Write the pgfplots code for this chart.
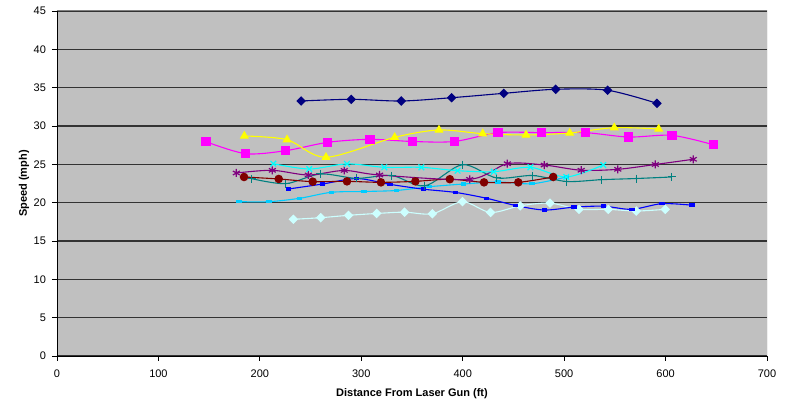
\documentclass[border=0pt]{standalone}
\usepackage{fontspec}
\setmainfont{Liberation Sans}
\usepackage{pgfplots}
\pgfplotsset{compat=1.18}
\definecolor{bg}{HTML}{C0C0C0}
\definecolor{cnavy}{HTML}{000080}
\definecolor{cmag}{HTML}{FF00FF}
\definecolor{cyel}{HTML}{FFFF00}
\definecolor{ccyan}{HTML}{00FFFF}
\definecolor{cpurp}{HTML}{800080}
\definecolor{cmaroon}{HTML}{800000}
\definecolor{cteal}{HTML}{008080}
\definecolor{cblue}{HTML}{0000FF}
\definecolor{csky}{HTML}{00CCFF}
\definecolor{clcyan}{HTML}{CCFFFF}
\begin{document}
\begin{tikzpicture}
\useasboundingbox (-57pt,-47pt) rectangle (734pt,356pt);
\begin{axis}[
  at={(0,0)}, anchor=south west,
  scale only axis, width=710pt, height=345pt,
  xmin=0, xmax=700, ymin=0, ymax=45,
  xtick={0,100,...,700}, ytick={0,5,...,45},
  axis x line*=bottom, axis y line*=left,
  axis line style={black, line width=0.8pt},
  axis background/.style={fill=bg},
  ymajorgrids, major grid style={black!80, line width=1.1pt},
  tick align=outside, major tick length=5pt,
  tick style={black, line width=0.8pt},
  ticklabel style={font=\fontsize{11}{13}\selectfont},
  xticklabel style={yshift=-5pt},
  yticklabel style={xshift=-2.5pt},
  /pgf/number format/assume math mode=true,
  xlabel={Distance From Laser Gun (ft)},
  ylabel={Speed (mph)},
  label style={font=\fontsize{11}{13}\selectfont\bfseries},
  xlabel style={at={(axis description cs:0.5,-0.11)}, anchor=center},
  ylabel style={at={(axis description cs:-0.0465,0.5)}, anchor=center, rotate=0},
  every axis plot/.append style={smooth, line width=1.1pt},
]
% navy diamonds
\addplot[cnavy, mark=diamond*, mark size=4pt, mark options={xscale=1.33}] coordinates {
(240.6,33.26) (290.1,33.48) (339.4,33.26) (389.1,33.69) (440.4,34.26) (491.7,34.79) (542.9,34.66) (591.5,32.96)};
% magenta squares
\addplot[cmag, mark=square*, mark size=4pt] coordinates {
(146.9,27.95) (186.0,26.39) (225.5,26.78) (266.9,27.87) (308.6,28.26) (350.3,27.98) (391.7,27.98) (434.8,29.13) (477.9,29.13) (520.9,29.13) (563.7,28.56) (606.3,28.78) (647.0,27.56)};
% yellow triangles
\addplot[cyel, mark=triangle*, mark size=4.2pt] coordinates {
(184.7,28.70) (226.8,28.21) (265.2,25.92) (332.9,28.52) (376.6,29.48) (419.7,29.0) (462.4,28.83) (505.5,29.09) (549.4,29.78) (593.2,29.61)};
% sky blue dashes
\addplot[csky, mark=square*, mark size=2.2pt, mark options={yscale=0.55}] coordinates {
(179.2,20.13) (209.0,20.13) (239.3,20.57) (270.4,21.35) (302.9,21.46) (334.7,21.59) (367.1,22.08) (400.6,22.43) (434.8,22.70) (468.5,22.47) (502.3,23.35)};
% light cyan diamonds
\addplot[clcyan, mark=diamond*, mark size=4pt, mark options={xscale=1.33}] coordinates {
(233.0,17.83) (260.0,18.04) (287.4,18.35) (315.2,18.59) (342.7,18.76) (370.1,18.55) (399.8,20.13) (427.4,18.72) (456.7,19.59) (486.1,19.94) (514.7,19.13) (543.5,19.13) (571.1,18.91) (599.7,19.13)};
% blue dashes
\addplot[cblue, mark=square*, mark size=2.2pt, mark options={yscale=0.55}] coordinates {
(228.0,21.78) (261.8,22.43) (295.5,23.15) (328.3,22.39) (361.1,21.76) (393.1,21.33) (423.6,20.57) (452.2,19.63) (480.6,19.04) (509.5,19.41) (538.6,19.54) (566.7,19.13) (596.3,19.87) (626.0,19.67)};
% teal plus
\addplot[cteal, mark=+, mark size=4pt, mark options={line width=1pt}] coordinates {
(192.0,23.13) (225.5,22.48) (259.6,23.74) (295.5,23.17) (330.0,23.54) (362.6,22.19) (399.8,24.95) (433.5,23.22) (468.9,23.54) (502.6,22.76) (537.0,23.0) (570.9,23.15) (606.3,23.35)};
% maroon circles
\addplot[cmaroon, mark=*, mark size=3.7pt] coordinates {
(184.4,23.35) (218.6,23.09) (252.1,22.74) (285.9,22.78) (319.4,22.65) (353.3,22.78) (387.3,23.06) (421.0,22.65) (454.8,22.65) (489.2,23.35)};
% purple asterisks
\addplot[cpurp, mark=asterisk, mark size=4pt, mark options={line width=1.2pt}] coordinates {
(176.8,23.87) (212.3,24.22) (247.8,23.61) (283.2,24.2) (318.0,23.61) (406.9,23.05) (444.0,25.08) (480.4,24.91) (516.8,24.23) (552.9,24.35) (589.9,24.98) (627.3,25.66)};
% cyan x
\addplot[ccyan, mark=x, mark size=4pt, mark options={line width=1.2pt}] coordinates {
(213.3,25.08) (248.7,24.39) (285.9,25.06) (322.7,24.61) (359.2,24.61) (394.9,24.17) (430.6,24.04) (466.8,24.61) (502.0,23.35) (538.6,24.91)};
\draw[black!50, line width=1pt] (rel axis cs:0,1) -- (rel axis cs:1,1) -- (rel axis cs:1,0);
\end{axis}
\end{tikzpicture}
\end{document}
